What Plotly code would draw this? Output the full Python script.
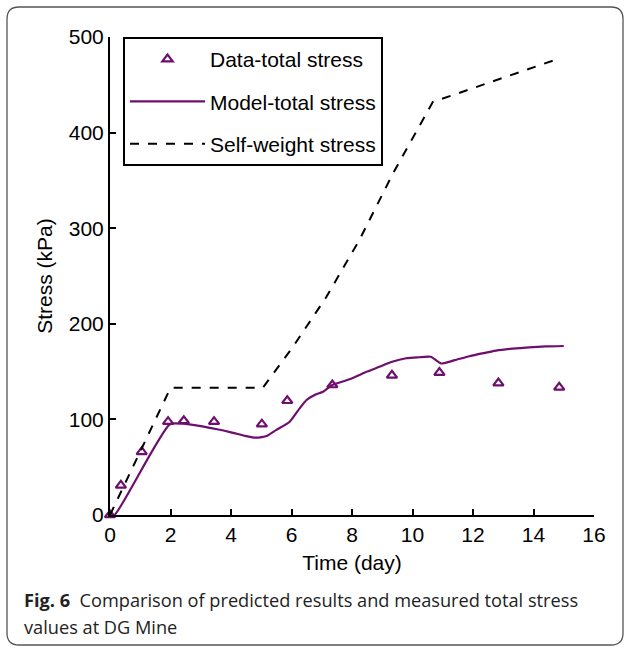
import plotly.graph_objects as go

# ---- data ----
data_t = [0.0, 0.36, 1.05, 1.92, 2.44, 3.44, 5.02, 5.86, 7.35, 9.32, 10.89, 12.84, 14.85]
data_s = [0.0, 31, 66, 97.6, 98.6, 97.6, 95, 119.5, 136, 146, 149, 138, 133.5]

model_t = [0.0, 0.15, 1.98, 2.4, 3.0, 3.5, 4.0, 4.5, 4.75, 5.02, 5.2, 5.5, 5.94, 6.27, 6.49,
           6.8, 7.04, 7.35, 7.92, 8.5, 8.9, 9.3, 9.79, 10.2, 10.6, 10.95, 11.4, 11.88,
           12.3, 12.76, 13.3, 13.86, 14.4, 15.0]
model_s = [0.0, 0.0, 95, 95.5, 93, 90, 86.5, 82.5, 81, 81.5, 83, 89, 97.6, 111.6, 120,
           126, 129, 136, 142, 150, 155, 160, 164, 165, 165.5, 158.5, 162, 166,
           169, 172, 174, 175.4, 176.3, 176.8]

self_t = [0.0, 2.0, 5.05, 6.05, 7.15, 8.25, 9.35, 10.67, 14.8]
self_s = [0.0, 133, 133, 176, 228, 288, 357, 432, 477]

x_ticks = [0, 2, 4, 6, 8, 10, 12, 14, 16]
y_ticks = [0, 100, 200, 300, 400, 500]

PURPLE = "#6e0f6e"
FONT = "Liberation Sans, Arial, sans-serif"

W, H = 629, 648
L, R, T, B = 110, 35, 37, 133
pw, ph = W - L - R, H - T - B


def px(x):
    return (x - L) / pw


def py(y):
    return (H - B - y) / ph


fig = go.Figure()
fig.add_trace(go.Scatter(
    x=data_t, y=data_s, mode="markers", name="Data-total stress",
    legendgroup="a",
    marker=dict(symbol="triangle-up-open", size=9, color=PURPLE, line=dict(width=2.2, color=PURPLE)),
    cliponaxis=False,
))
fig.add_trace(go.Scatter(
    x=model_t, y=model_s, mode="lines", name="Model-total stress",
    legendgroup="b",
    line=dict(color=PURPLE, width=2.2, shape="spline", smoothing=0.6),
))
fig.add_trace(go.Scatter(
    x=self_t, y=self_s, mode="lines", name="Self-weight stress",
    legendgroup="c",
    line=dict(color="black", width=2, dash="dash"),
))

# rounded figure border
x0, y0, x1, y1, r = px(7), py(7), px(623), py(645), 12
rx, ry = r / pw, r / ph
path = (f"M {x0+rx},{y0} L {x1-rx},{y0} Q {x1},{y0} {x1},{y0-ry} "
        f"L {x1},{y1+ry} Q {x1},{y1} {x1-rx},{y1} "
        f"L {x0+rx},{y1} Q {x0},{y1} {x0},{y1+ry} "
        f"L {x0},{y0-ry} Q {x0},{y0} {x0+rx},{y0} Z")
fig.add_shape(type="path", path=path, xref="paper", yref="paper",
              line=dict(color="#555555", width=1.3), layer="below")

CAP_FONT = "Open Sans, Noto Sans, sans-serif"
fig.add_annotation(
    x=px(22), y=py(600), xref="paper", yref="paper", xanchor="left", yanchor="middle",
    text="<b>Fig. 6</b>  Comparison of predicted results and measured total stress",
    showarrow=False, font=dict(family=CAP_FONT, size=18.2, color="#222222"),
)
fig.add_annotation(
    x=px(22), y=py(627), xref="paper", yref="paper", xanchor="left", yanchor="middle",
    text="values at DG Mine",
    showarrow=False, font=dict(family=CAP_FONT, size=18.2, color="#222222"),
)

fig.update_layout(
    width=W, height=H,
    margin=dict(l=L, r=R, t=T, b=B),
    paper_bgcolor="white", plot_bgcolor="white",
    font=dict(family=FONT, size=21, color="black"),
    showlegend=True,
    legend=dict(
        x=px(123), y=1.0, xanchor="left", yanchor="top",
        bgcolor="white", bordercolor="black", borderwidth=2,
        font=dict(family=FONT, size=21, color="black"),
        tracegroupgap=12, itemwidth=75,
    ),
    xaxis=dict(
        range=[0, 16], tickvals=x_ticks, ticktext=[str(v) for v in x_ticks],
        showgrid=False, zeroline=False, showline=True, linecolor="black", linewidth=2,
        ticks="inside", ticklen=6, tickwidth=2, tickcolor="black",
        title=dict(text="Time (day)", font=dict(size=21), standoff=10),
        tickfont=dict(size=21),
    ),
    yaxis=dict(
        range=[0, 500], tickvals=y_ticks, ticktext=[str(v) for v in y_ticks],
        showgrid=False, zeroline=False, showline=True, linecolor="black", linewidth=2,
        ticks="inside", ticklen=6, tickwidth=2, tickcolor="black",
        title=dict(text="Stress (kPa)", font=dict(size=21), standoff=10),
        tickfont=dict(size=21),
    ),
)

fig.write_html("out.html")
